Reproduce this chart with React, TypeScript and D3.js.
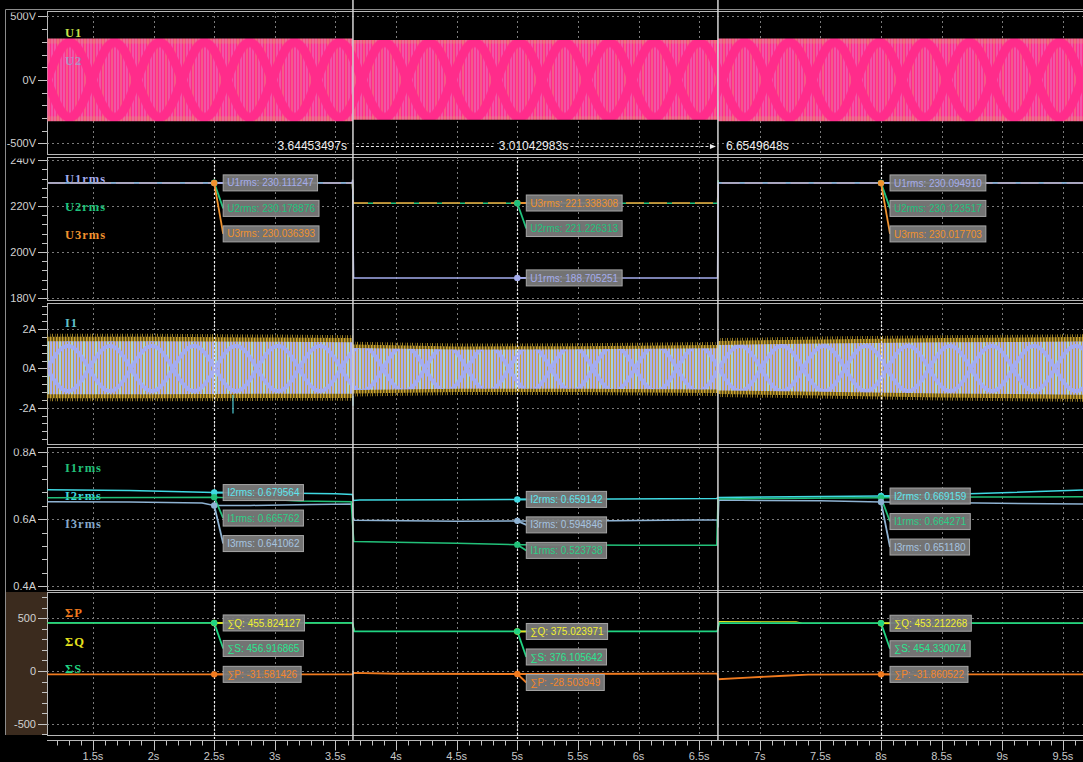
import React from "react";
import * as d3 from "d3";

const W = 1083;
const H = 762;
const X0 = 47;
const X1 = 1083;

// ---------- time axis ----------
const timeDomain = [1.121, 9.666];
const timeMajorTicks = [1.5, 2, 2.5, 3, 3.5, 4, 4.5, 5, 5.5, 6, 6.5, 7, 7.5, 8, 8.5, 9, 9.5];
const cursorTimes = [2.5, 5, 8];
const markerTimes = [3.64453497, 6.6549648];
const markerLabels = ["3.64453497s", "6.6549648s"];
const markerDelta = "3.01042983s";

// ---------- panel 1 : U waveforms (envelope) ----------
const uTicks = [-500, 0, 500];
const uEnvT = [1.121, 3.6445, 3.6446, 6.6549, 6.655, 9.666];
const uEnvPeak = [326, 326, 314, 314, 326, 326];

// ---------- panel 2 : Urms ----------
const urmsTicks = [180, 200, 220, 240];
const u1rmsT = [1.121, 3.638, 3.642, 3.646, 3.65, 6.652, 6.657, 9.666];
const u1rmsV = [230.11, 230.11, 231.5, 203, 188.71, 188.7, 230.1, 230.09];
const u2rmsT = [1.121, 3.64, 3.648, 5, 6.652, 6.656, 6.66, 9.666];
const u2rmsV = [230.18, 230.18, 221.2, 221.23, 221.2, 231.3, 230.12, 230.12];
const u3rmsT = [1.121, 3.64, 3.648, 5, 6.652, 6.657, 9.666];
const u3rmsV = [230.04, 230.04, 221.34, 221.34, 221.33, 230.02, 230.02];
const u1rmsRead = [230.111247, 188.705251, 230.09491];
const u2rmsRead = [230.178876, 221.226313, 230.123517];
const u3rmsRead = [230.036393, 221.338308, 230.017703];
const urmsOrder = [["U1rms", "U2rms", "U3rms"], ["U3rms", "U2rms", "U1rms"], ["U1rms", "U2rms", "U3rms"]];

// ---------- panel 3 : I waveforms (envelope) ----------
const iTicks = [-2, 0, 2];
const iEnvT = [1.121, 2.0, 3.0, 3.644, 3.646, 4.5, 5.5, 6.654, 6.656, 7.5, 8.5, 9.666];
const iEnvUpper = [1.62, 1.62, 1.58, 1.55, 1.22, 1.12, 1.14, 1.2, 1.4, 1.48, 1.55, 1.6];
const iEnvLower = [-1.52, -1.52, -1.5, -1.5, -1.28, -1.2, -1.2, -1.25, -1.3, -1.38, -1.48, -1.55];
const iSpikeT = [2.655, 3.6445];
const iSpikeFrom = [-1.35, -1.4];
const iSpikeTo = [-2.3, -1.9];

// ---------- panel 4 : Irms ----------
const irmsTicks = [0.4, 0.6, 0.8];
const i1rmsT = [1.121, 2.0, 2.5, 2.9, 3.2, 3.63, 3.645, 3.652, 4.0, 4.5, 5.0, 5.5, 6.0, 6.645, 6.655, 6.66, 7.0, 8.0, 8.8, 9.666];
const i1rmsV = [0.664, 0.665, 0.6658, 0.66, 0.654, 0.652, 0.566, 0.533, 0.531, 0.528, 0.5237, 0.523, 0.522, 0.522, 0.655, 0.66, 0.662, 0.6643, 0.666, 0.667];
const i2rmsT = [1.121, 1.8, 2.5, 3.0, 3.5, 3.64, 3.648, 3.7, 4.5, 5.0, 5.8, 6.645, 6.655, 7.0, 8.0, 8.8, 9.666];
const i2rmsV = [0.688, 0.686, 0.6796, 0.678, 0.676, 0.674, 0.656, 0.657, 0.658, 0.6591, 0.66, 0.662, 0.665, 0.666, 0.6692, 0.677, 0.687];
const i3rmsT = [1.121, 1.8, 2.4, 2.5, 2.8, 3.3, 3.64, 3.645, 3.655, 4.5, 5.0, 5.8, 6.65, 6.655, 6.662, 7.5, 8.0, 8.8, 9.666];
const i3rmsV = [0.652, 0.651, 0.648, 0.6411, 0.641, 0.644, 0.645, 0.606, 0.597, 0.594, 0.5948, 0.595, 0.598, 0.575, 0.657, 0.655, 0.6512, 0.648, 0.645];
const i1rmsRead = [0.665762, 0.523738, 0.664271];
const i2rmsRead = [0.679564, 0.659142, 0.669159];
const i3rmsRead = [0.641062, 0.594846, 0.65118];
const irmsOrder = [["I2rms", "I1rms", "I3rms"], ["I2rms", "I3rms", "I1rms"], ["I2rms", "I1rms", "I3rms"]];

// ---------- panel 5 : power ----------
const pTicks = [-500, 0, 500];
const sT = [1.121, 3.64, 3.655, 6.65, 6.665, 9.666];
const sV = [456.9, 456.9, 376.1, 376.1, 454.3, 454.3];
const qT = [1.121, 3.64, 3.655, 6.65, 6.665, 7.3, 7.35, 9.666];
const qV = [455.8, 455.8, 375.0, 375.0, 468, 467, 453.2, 453.2];
const pT = [1.121, 3.64, 3.65, 4.0, 5.0, 6.0, 6.5, 6.65, 6.658, 6.9, 7.2, 7.4, 8.0, 9.666];
const pV = [-31.6, -31.6, -18, -26, -28.5, -26, -24, -24, -78, -62, -45, -34, -31.9, -31.9];
const pRead = [-31.581426, -28.503949, -31.860522];
const qRead = [455.824127, 375.023971, 453.212268];
const sRead = [456.916865, 376.105642, 454.330074];
const powOrder = [["ΣQ", "ΣS", "ΣP"], ["ΣQ", "ΣS", "ΣP"], ["ΣQ", "ΣS", "ΣP"]];

// ---------- layout ----------
const panels = [
  { top: 11, bottom: 154, domain: [-583, 543], ticks: uTicks, minor: 100, fmt: (v: number) => `${v}V` },
  { top: 157, bottom: 300, domain: [179.08, 241.39], ticks: urmsTicks, minor: 4, fmt: (v: number) => `${v}V` },
  { top: 303, bottom: 444, domain: [-3.85, 3.34], ticks: iTicks, minor: 0.4, fmt: (v: number) => `${v}A` },
  { top: 447, bottom: 590, domain: [0.388, 0.8159], ticks: irmsTicks, minor: 0.04, fmt: (v: number) => `${v.toFixed(1)}A` },
  { top: 592, bottom: 735, domain: [-607, 749.5], ticks: pTicks, minor: 100, fmt: (v: number) => `${v}` },
];

const C = {
  u1rms: "#a4acec", u2rms: "#1fc27c", u3rms: "#f0922e",
  i1rms: "#22c079", i2rms: "#3fd9e2", i3rms: "#8eb2d2",
  p: "#f07a1e", q: "#e6e21e", s: "#20d482",
  grid: "#7a7a7a", frame: "#b8b8b8", axisText: "#d2d2d2",
  pink: "#ff2c8b",
};

const fontSans = "'Liberation Sans', Arial, sans-serif";
const fontLabel = "'Liberation Serif', 'DejaVu Serif', serif";

let _ctx: CanvasRenderingContext2D | null = null;
function measure(s: string, font: string) {
  if (!_ctx) _ctx = document.createElement("canvas").getContext("2d");
  if (!_ctx) return s.length * 5.5;
  _ctx.font = font;
  return _ctx.measureText(s).width;
}

function sineD(w: number, h: number, amp: number, sign: number) {
  const pts: [number, number][] = d3.range(0, w + 1, 1).map((xx) => [xx, h / 2 + sign * amp * Math.sin((2 * Math.PI * xx) / w)]);
  return d3.line()(pts) || "";
}

type Entry = { key: string; tip: string; value: number; color: string; text: string };

function Readouts({ cx, entries, y }: { cx: number; entries: Entry[]; y: d3.ScaleLinear<number, number> }) {
  let prev = -1e9;
  const items = entries.map((e) => {
    const dy = y(e.value);
    const c = Math.max(dy, prev + 25.5);
    prev = c;
    return { ...e, dy, c };
  });
  const font = `10px ${fontSans}`;
  return (
    <g>
      {items.map((it, i) => (
        <line key={"l" + i} x1={cx} y1={it.dy} x2={cx + 9} y2={it.c} stroke={it.color} strokeWidth={1.8} />
      ))}
      {items.map((it, i) => (
        <circle key={"c" + i} cx={cx} cy={it.dy} r={3.2} fill={it.color} />
      ))}
      {items.map((it, i) => {
        const label = `${it.tip}: ${it.value.toFixed(6)}`;
        const w = measure(label, font) + 8;
        return (
          <g key={"b" + i}>
            <rect x={cx + 9} y={it.c - 8} width={w} height={16} fill="#7c7c7c" fillOpacity={0.93} stroke="#a6a6a6" strokeWidth={1} />
            <text x={cx + 13} y={it.c + 3.6} fontSize={10} fontFamily={fontSans} fill={it.text}>
              {label}
            </text>
          </g>
        );
      })}
    </g>
  );
}

export default function App() {
  const x = d3.scaleLinear().domain(timeDomain).range([X0, X1]);
  const ys = panels.map((p) => d3.scaleLinear().domain(p.domain).range([p.bottom, p.top]));
  const [yU, yUr, yI, yIr, yP] = ys;

  const mkLine = (ts: number[], vs: number[], y: d3.ScaleLinear<number, number>) =>
    d3.line<number>().x((_, i) => x(ts[i])).y((v) => y(v))(vs) || "";

  const uArea = d3
    .area<number>()
    .x((_, i) => x(uEnvT[i]))
    .y0((v) => yU(-v))
    .y1((v) => yU(v))(uEnvPeak) || "";
  const uTop = yU(326);
  const uH = yU(-326) - yU(326);

  const iArea = (k: number, pad: number) =>
    d3
      .area<number>()
      .x((_, i) => x(iEnvT[i]))
      .y0((_, i) => yI(iEnvLower[i] * k - pad))
      .y1((v) => yI(v * k + pad))(iEnvUpper) || "";
  const iTopIn = yI(1.3);
  const iHIn = yI(-1.3) - yI(1.3);

  const xMinor = d3.range(12, 97).map((i) => i / 10).filter((t) => Math.abs(t * 2 - Math.round(t * 2)) > 1e-6);

  const urmsMap: Record<string, { read: number[]; color: string }> = {
    U1rms: { read: u1rmsRead, color: C.u1rms },
    U2rms: { read: u2rmsRead, color: C.u2rms },
    U3rms: { read: u3rmsRead, color: C.u3rms },
  };
  const irmsMap: Record<string, { read: number[]; color: string; text: string }> = {
    I1rms: { read: i1rmsRead, color: C.i1rms, text: "#2ccf86" },
    I2rms: { read: i2rmsRead, color: C.i2rms, text: "#5fe6ee" },
    I3rms: { read: i3rmsRead, color: C.i3rms, text: "#a6c4e0" },
  };
  const powMap: Record<string, { read: number[]; color: string; text: string; tip: string }> = {
    ΣP: { read: pRead, color: C.p, text: "#f5862a", tip: "∑P" },
    ΣQ: { read: qRead, color: C.q, text: "#f2f030", tip: "∑Q" },
    ΣS: { read: sRead, color: C.s, text: "#2ae690", tip: "∑S" },
  };

  const xa = x(markerTimes[0]);
  const xb = x(markerTimes[1]);
  const mid = (xa + xb) / 2 - 2;

  return (
    <svg width={W} height={H} style={{ position: "absolute", left: 0, top: 0, display: "block" }}>
      <defs>
        {panels.map((p, i) => (
          <clipPath id={"pc" + i} key={"pc" + i}>
            <rect x={X0 + 0.5} y={p.top + 0.5} width={X1 - X0} height={p.bottom - p.top - 1} />
          </clipPath>
        ))}
        {panels.map((p, i) => (
          <clipPath id={"lc" + i} key={"lc" + i}>
            <rect x={0} y={p.top + 1.5} width={X0 + 1} height={p.bottom - p.top + 1.5} />
          </clipPath>
        ))}
        <pattern id="uPat" patternUnits="userSpaceOnUse" x={X0} y={uTop} width={90} height={uH}>
          <rect width={90} height={uH} fill={C.pink} />
          {d3.range(30).map((i) => (
            <rect key={i} x={i * 3 + 1.5} y={0} width={1} height={uH} fill={i % 3 === 0 ? "#dcc47c" : "#d4aee4"} opacity={0.62} />
          ))}
          <rect x={0} y={0} width={90} height={5} fill="#d8b860" opacity={0.25} />
          <rect x={0} y={uH - 5} width={90} height={5} fill="#d8b860" opacity={0.25} />
          <path d={sineD(90, uH, uH / 2 - 4, 1)} stroke={C.pink} strokeWidth={9} fill="none" />
          <path d={sineD(90, uH, uH / 2 - 4, -1)} stroke={C.pink} strokeWidth={9} fill="none" />
        </pattern>
        <pattern id="iyPat" patternUnits="userSpaceOnUse" x={X0} y={0} width={3} height={10}>
          <rect width={1.7} height={10} fill="#c9a22e" />
          <rect x={1.7} width={1.3} height={10} fill="#5e4c14" />
        </pattern>
        <pattern id="ifPat" patternUnits="userSpaceOnUse" x={X0} y={0} width={5} height={10}>
          <rect width={1} height={10} fill="#b8962a" opacity={0.85} />
          <rect x={3} width={1} height={10} fill="#9a7d22" opacity={0.55} />
        </pattern>
        <pattern id="iPat" patternUnits="userSpaceOnUse" x={X0} y={iTopIn} width={84} height={iHIn}>
          <rect width={84} height={iHIn} fill="#c2a044" />
          {d3.range(28).map((i) => (
            <rect key={i} x={i * 3} y={0} width={2} height={iHIn} fill={i % 4 === 0 ? "#a4cfe6" : "#a7aef0"} />
          ))}
          <path d={sineD(84, iHIn, iHIn / 2 - 3, 1)} stroke="#a4acf0" strokeWidth={4} fill="none" />
          <path d={sineD(84, iHIn, iHIn / 2 - 3, -1)} stroke="#a4acf0" strokeWidth={4} fill="none" />
        </pattern>
      </defs>

      <rect width={W} height={H} fill="#000" />
      <rect x={6} y={panels[4].top} width={X0 - 6} height={panels[4].bottom - panels[4].top} fill="#3b2b1e" />
      <path d={`M5.5,${panels[4].bottom} V9.5 H${W}`} stroke="#8c8c8c" fill="none" />

      {panels.map((p, i) => (
        <rect key={"f" + i} x={X0 + 0.5} y={p.top + 0.5} width={X1 - X0 + 10} height={p.bottom - p.top} fill="none" stroke={C.frame} strokeWidth={1} />
      ))}

      {panels.map((p, i) => (
        <g key={"g" + i} clipPath={`url(#pc${i})`}>
          {p.ticks.map((t) => (
            <line key={"h" + t} x1={X0} x2={X1} y1={Math.round(ys[i](t)) + 0.5} y2={Math.round(ys[i](t)) + 0.5} stroke={C.grid} strokeDasharray="2 3" />
          ))}
          {timeMajorTicks.map((t) => (
            <line key={"v" + t} x1={Math.round(x(t)) + 0.5} x2={Math.round(x(t)) + 0.5} y1={p.top} y2={p.bottom} stroke={C.grid} strokeDasharray="2 3" />
          ))}
        </g>
      ))}

      {panels.map((p, i) => {
        const y = ys[i];
        const minors = d3
          .range(Math.ceil(p.domain[0] / p.minor), Math.floor(p.domain[1] / p.minor) + 1)
          .map((k) => k * p.minor);
        return (
          <g key={"a" + i} clipPath={`url(#lc${i})`}>
            {minors.map((t, k) => (
              <line key={"m" + k} x1={42} x2={X0} y1={Math.round(y(t)) + 0.5} y2={Math.round(y(t)) + 0.5} stroke="#c4c4c4" />
            ))}
            {p.ticks.map((t) => (
              <g key={"t" + t}>
                <line x1={38} x2={X0} y1={Math.round(y(t)) + 0.5} y2={Math.round(y(t)) + 0.5} stroke="#c4c4c4" />
                <text x={36} y={y(t)} dy="0.36em" textAnchor="end" fontSize={11} fontFamily={fontSans} fill={C.axisText}>
                  {p.fmt(t)}
                </text>
              </g>
            ))}
          </g>
        );
      })}

      <g fontFamily={fontLabel} fontWeight="bold" fontSize={12.5} letterSpacing={1}>
        <text x={65} y={37} fill="#c9e24a">U1</text>
        <text x={65} y={182.5} fill={C.u1rms}>U1rms</text>
        <text x={65} y={211} fill={C.u2rms}>U2rms</text>
        <text x={65} y={238.5} fill={C.u3rms}>U3rms</text>
        <text x={65} y={327} fill="#62c4cc">I1</text>
        <text x={65} y={472} fill={C.i1rms}>I1rms</text>
        <text x={65} y={500} fill={C.i2rms}>I2rms</text>
        <text x={65} y={528} fill="#86a8c8">I3rms</text>
        <text x={65} y={617} fill={C.p}>ΣP</text>
        <text x={65} y={646} fill={C.q}>ΣQ</text>
        <text x={65} y={673} fill={C.s}>ΣS</text>
      </g>

      <g clipPath="url(#pc0)">
        <path d={uArea} fill="url(#uPat)" />
        <text x={65} y={65} fontFamily={fontLabel} fontWeight="bold" fontSize={12.5} letterSpacing={1} fill="#7ec0e6" opacity={0.6}>
          U2
        </text>
      </g>

      <g clipPath="url(#pc1)" fill="none" strokeWidth={1.5}>
        <path d={mkLine(u2rmsT, u2rmsV, yUr)} stroke={C.u2rms} />
        <path d={mkLine(u3rmsT, u3rmsV, yUr)} stroke={C.u3rms} strokeDasharray="18 5" />
        <path d={mkLine(u1rmsT, u1rmsV, yUr)} stroke={C.u1rms} />
      </g>

      <g clipPath="url(#pc2)">
        <path d={iArea(1, 0.15)} fill="url(#ifPat)" />
        <path d={iArea(1, 0)} fill="url(#iyPat)" />
        <path d={iArea(0.86, 0)} fill="url(#iPat)" />
        {iSpikeT.map((t, i) => (
          <line key={i} x1={x(t)} x2={x(t)} y1={yI(iSpikeFrom[i])} y2={yI(iSpikeTo[i])} stroke="#4cc8d2" strokeWidth={1.2} />
        ))}
      </g>

      <g clipPath="url(#pc3)" fill="none" strokeWidth={1.5}>
        <path d={mkLine(i3rmsT, i3rmsV, yIr)} stroke={C.i3rms} />
        <path d={mkLine(i1rmsT, i1rmsV, yIr)} stroke={C.i1rms} />
        <path d={mkLine(i2rmsT, i2rmsV, yIr)} stroke={C.i2rms} />
      </g>

      <g clipPath="url(#pc4)" fill="none">
        <path d={mkLine(qT, qV, yP)} stroke={C.q} strokeWidth={1.2} />
        <path d={mkLine(sT, sV, yP)} stroke={C.s} strokeWidth={1.8} />
        <path d={mkLine(pT, pV, yP)} stroke={C.p} strokeWidth={1.8} />
      </g>

      {markerTimes.map((t, i) => (
        <line key={"mk" + i} x1={x(t)} x2={x(t)} y1={0} y2={741} stroke="#d4d4d4" strokeWidth={1.5} />
      ))}

      {cursorTimes.map((t, i) => (
        <line key={"cu" + i} x1={Math.round(x(t)) + 0.5} x2={Math.round(x(t)) + 0.5} y1={panels[1].top} y2={741} stroke="#ececec" strokeWidth={1.2} strokeDasharray="2 2" />
      ))}

      {cursorTimes.map((t, ci) => (
        <g key={"ro" + ci}>
          <Readouts
            cx={x(t)}
            y={yUr}
            entries={urmsOrder[ci].map((k) => ({ key: k, tip: k, value: urmsMap[k].read[ci], color: urmsMap[k].color, text: urmsMap[k].color }))}
          />
          <Readouts
            cx={x(t)}
            y={yIr}
            entries={irmsOrder[ci].map((k) => ({ key: k, tip: k, value: irmsMap[k].read[ci], color: irmsMap[k].color, text: irmsMap[k].text }))}
          />
          <Readouts
            cx={x(t)}
            y={yP}
            entries={powOrder[ci].map((k) => ({ key: k, tip: powMap[k].tip, value: powMap[k].read[ci], color: powMap[k].color, text: powMap[k].text }))}
          />
        </g>
      ))}

      <g fontFamily={fontSans} fontSize={12} fill="#eeeeee">
        <text x={xa - 6} y={150} textAnchor="end">{markerLabels[0]}</text>
        <text x={mid} y={150} textAnchor="middle">{markerDelta}</text>
        <text x={xb + 8} y={150}>{markerLabels[1]}</text>
        <line x1={xa + 3} x2={mid - 40} y1={146.5} y2={146.5} stroke="#e6e6e6" strokeDasharray="3 2" />
        <line x1={mid + 37} x2={xb - 5} y1={146.5} y2={146.5} stroke="#e6e6e6" strokeDasharray="3 2" />
        <path d={`M${xb - 8},144 L${xb - 2},146.5 L${xb - 8},149 Z`} fill="#eeeeee" />
      </g>

      <g>
        <line x1={X0} x2={X1} y1={740.5} y2={740.5} stroke={C.frame} />
        {xMinor.map((t, i) => (
          <line key={"xm" + i} x1={Math.round(x(t)) + 0.5} x2={Math.round(x(t)) + 0.5} y1={741} y2={745.5} stroke="#c4c4c4" />
        ))}
        {timeMajorTicks.map((t) => (
          <g key={"xt" + t}>
            <line x1={Math.round(x(t)) + 0.5} x2={Math.round(x(t)) + 0.5} y1={741} y2={750.5} stroke="#c4c4c4" />
            <text x={x(t)} y={760} textAnchor="middle" fontSize={11} fontFamily={fontSans} fill="#c8c8c8">
              {`${t}s`}
            </text>
          </g>
        ))}
      </g>
    </svg>
  );
}
